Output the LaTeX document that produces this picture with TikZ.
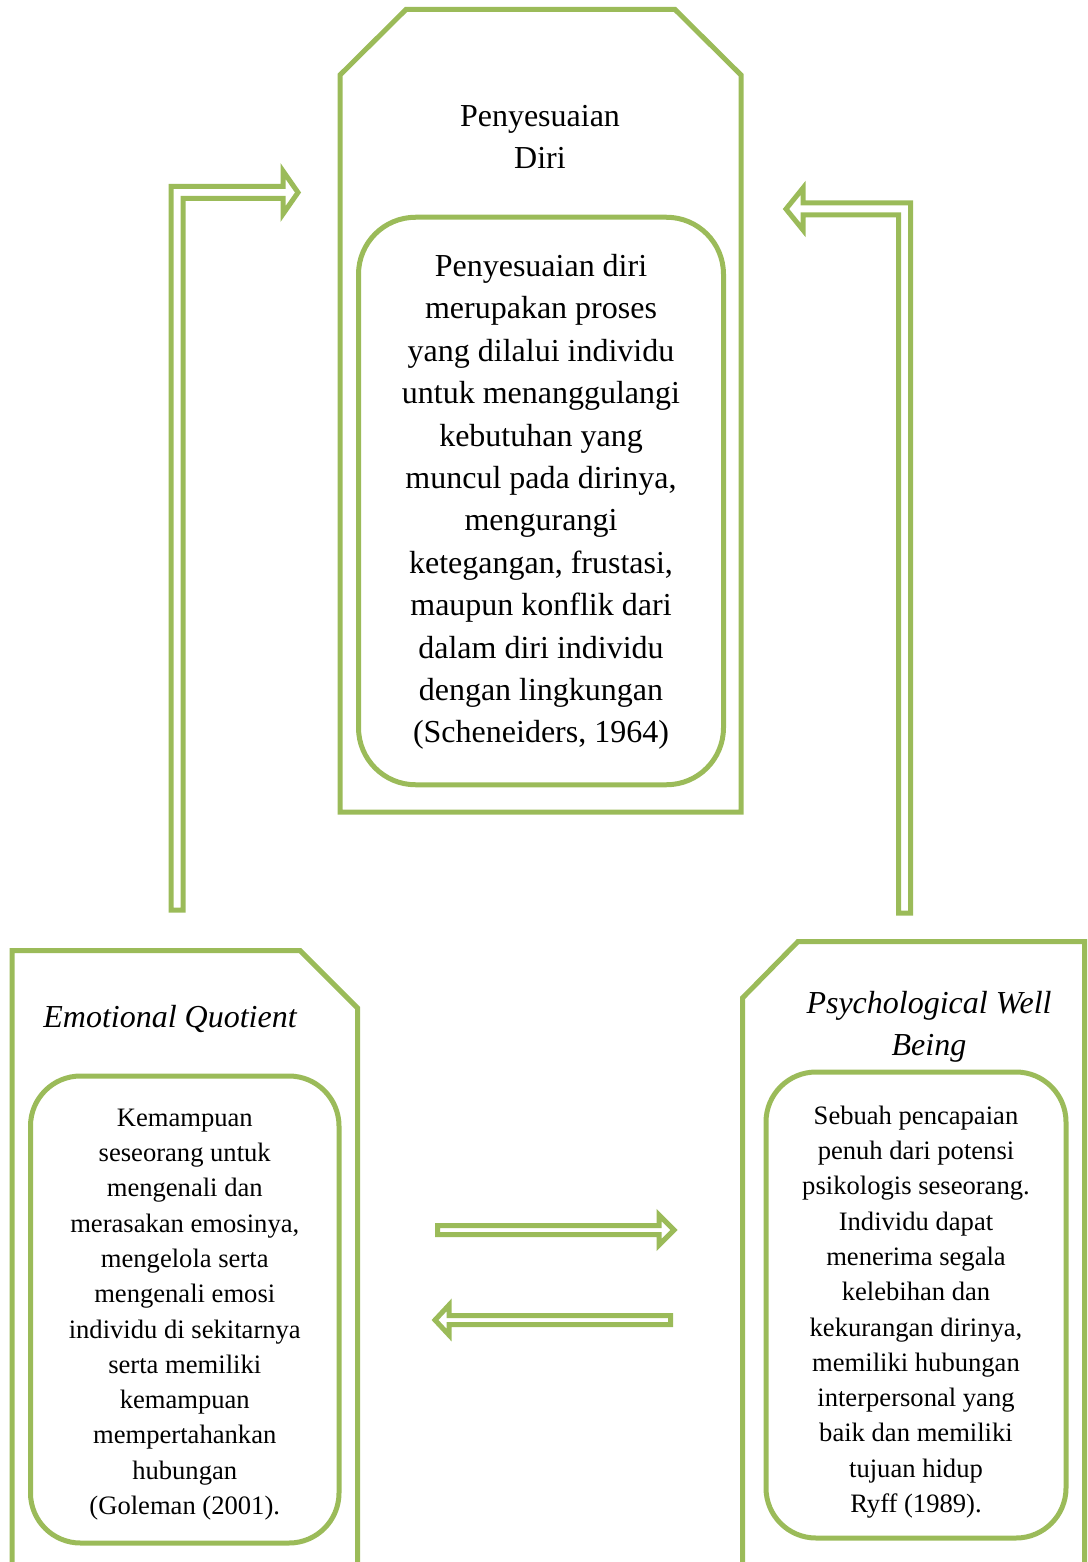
\documentclass[tikz,border=0pt]{standalone}
\usepackage{fontspec}
\setmainfont{Liberation Serif}
\usetikzlibrary{calc}
\definecolor{olivegreen}{HTML}{9BBB59}
\tikzset{
  chamfer/.style={draw=olivegreen, line width=2.5pt, line join=miter},
  innerbox/.style={draw=olivegreen, line width=2.5pt, rounded corners=25pt, inner sep=0pt},
  bigbox/.style={innerbox, rounded corners=28.5pt},
  smalltext/.style={align=center, inner sep=0pt, font=\fontsize{13.3}{17.65}\selectfont},
  bigtext/.style={align=center, inner sep=0pt, font=\fontsize{16}{21.2}\selectfont},
  titletext/.style={align=center, font=\fontsize{16}{21}\selectfont},
  ittitle/.style={align=center, font=\fontsize{16}{21}\selectfont\itshape},
  hollow/.style={draw=olivegreen, line width=2.5pt, line join=miter},
}
\begin{document}
\begin{tikzpicture}[x=0.5pt, y=-0.5pt]
    \clip (0,0) rectangle (1087,1562);
    % outer frames
    \draw[chamfer] (340,812) -- (340,75) -- (406,9.5) -- (675,9.5) -- (741,75) -- (741,812) -- cycle;
    \draw[chamfer] (12,1570) -- (12,950.5) -- (300,950.5) -- (357.5,1008) -- (357.5,1570);
    \draw[chamfer] (742.5,1570) -- (742.5,998) -- (798,941.5) -- (1084.5,941.5) -- (1084.5,1570);
    % titles
    \node[titletext] (pd) at (540,137) {Penyesuaian\\Diri};
    \node[ittitle] (eq) at (170,1019) {Emotional Quotient};
    \node[ittitle] (pwb) at (929,1027) {Psychological Well\\Being};
    % definition boxes
    \node[bigbox, minimum width=182.5pt, minimum height=283.75pt] (pdbox) at (541,501) {};
    \node[innerbox, minimum width=154.25pt, minimum height=233.5pt] (eqbox) at (184.75,1309.5) {};
    \node[innerbox, minimum width=150pt, minimum height=233pt] (pwbbox) at (916,1305) {};
    \node[bigtext] (pddef) at ($(pdbox)+(0,1)$)
      {Penyesuaian diri\\merupakan proses\\yang dilalui individu\\untuk menanggulangi\\kebutuhan yang\\muncul pada dirinya,\\mengurangi\\ketegangan, frustasi,\\maupun konflik dari\\dalam diri individu\\dengan lingkungan\\(Scheneiders, 1964)};
    \node[smalltext] (eqdef) at ($(eqbox)+(0,5)$)
      {Kemampuan\\seseorang untuk\\mengenali dan\\merasakan emosinya,\\mengelola serta\\mengenali emosi\\individu di sekitarnya\\serta memiliki\\kemampuan\\mempertahankan\\hubungan\\(Goleman (2001).};
    \node[smalltext] (pwbdef) at ($(pwbbox)+(0,7)$)
      {Sebuah pencapaian\\penuh dari potensi\\psikologis seseorang.\\Individu dapat\\menerima segala\\kelebihan dan\\kekurangan dirinya,\\memiliki hubungan\\interpersonal yang\\baik dan memiliki\\tujuan hidup\\Ryff (1989).};
    % arrow ends
    \coordinate (eqfoot) at (177,910);
    \coordinate (pdleft) at (298,192.5);
    \coordinate (pwbfoot) at (904.5,913);
    \coordinate (pdright) at (786,209);
    \coordinate (eqtail) at (437.5,1230);
    \coordinate (pwbtip) at (674,1230);
    \coordinate (pwbtail) at (670.5,1320);
    \coordinate (eqtip) at (435,1320);
    % hollow block arrows
    \draw[hollow] ($(eqfoot)+(-6,0)$) |- ($(pdleft)+(-15,-6)$) -- ++(0,-15.5) -- (pdleft)
      -- ++(-15,21.5) -- ++(0,-15.5) -| ($(eqfoot)+(6,0)$) -- cycle;
    \draw[hollow] ($(pwbfoot)+(6,0)$) |- ($(pdright)+(17,-6)$) -- ++(0,-15) -- (pdright)
      -- ++(17,21) -- ++(0,-15) -| ($(pwbfoot)+(-6,0)$) -- cycle;
    \draw[hollow] ($(eqtail)+(0,-4.5)$) -- ($(pwbtip)+(-15,-4.5)$) -- ++(0,-10.5) -- (pwbtip)
      -- ++(-15,15) -- ++(0,-10.5) -- ($(eqtail)+(0,4.5)$) -- cycle;
    \draw[hollow] ($(pwbtail)+(0,-4.5)$) -- ($(eqtip)+(14,-4.5)$) -- ++(0,-10.5) -- (eqtip)
      -- ++(14,15) -- ++(0,-10.5) -- ($(pwbtail)+(0,4.5)$) -- cycle;
\end{tikzpicture}
\end{document}
